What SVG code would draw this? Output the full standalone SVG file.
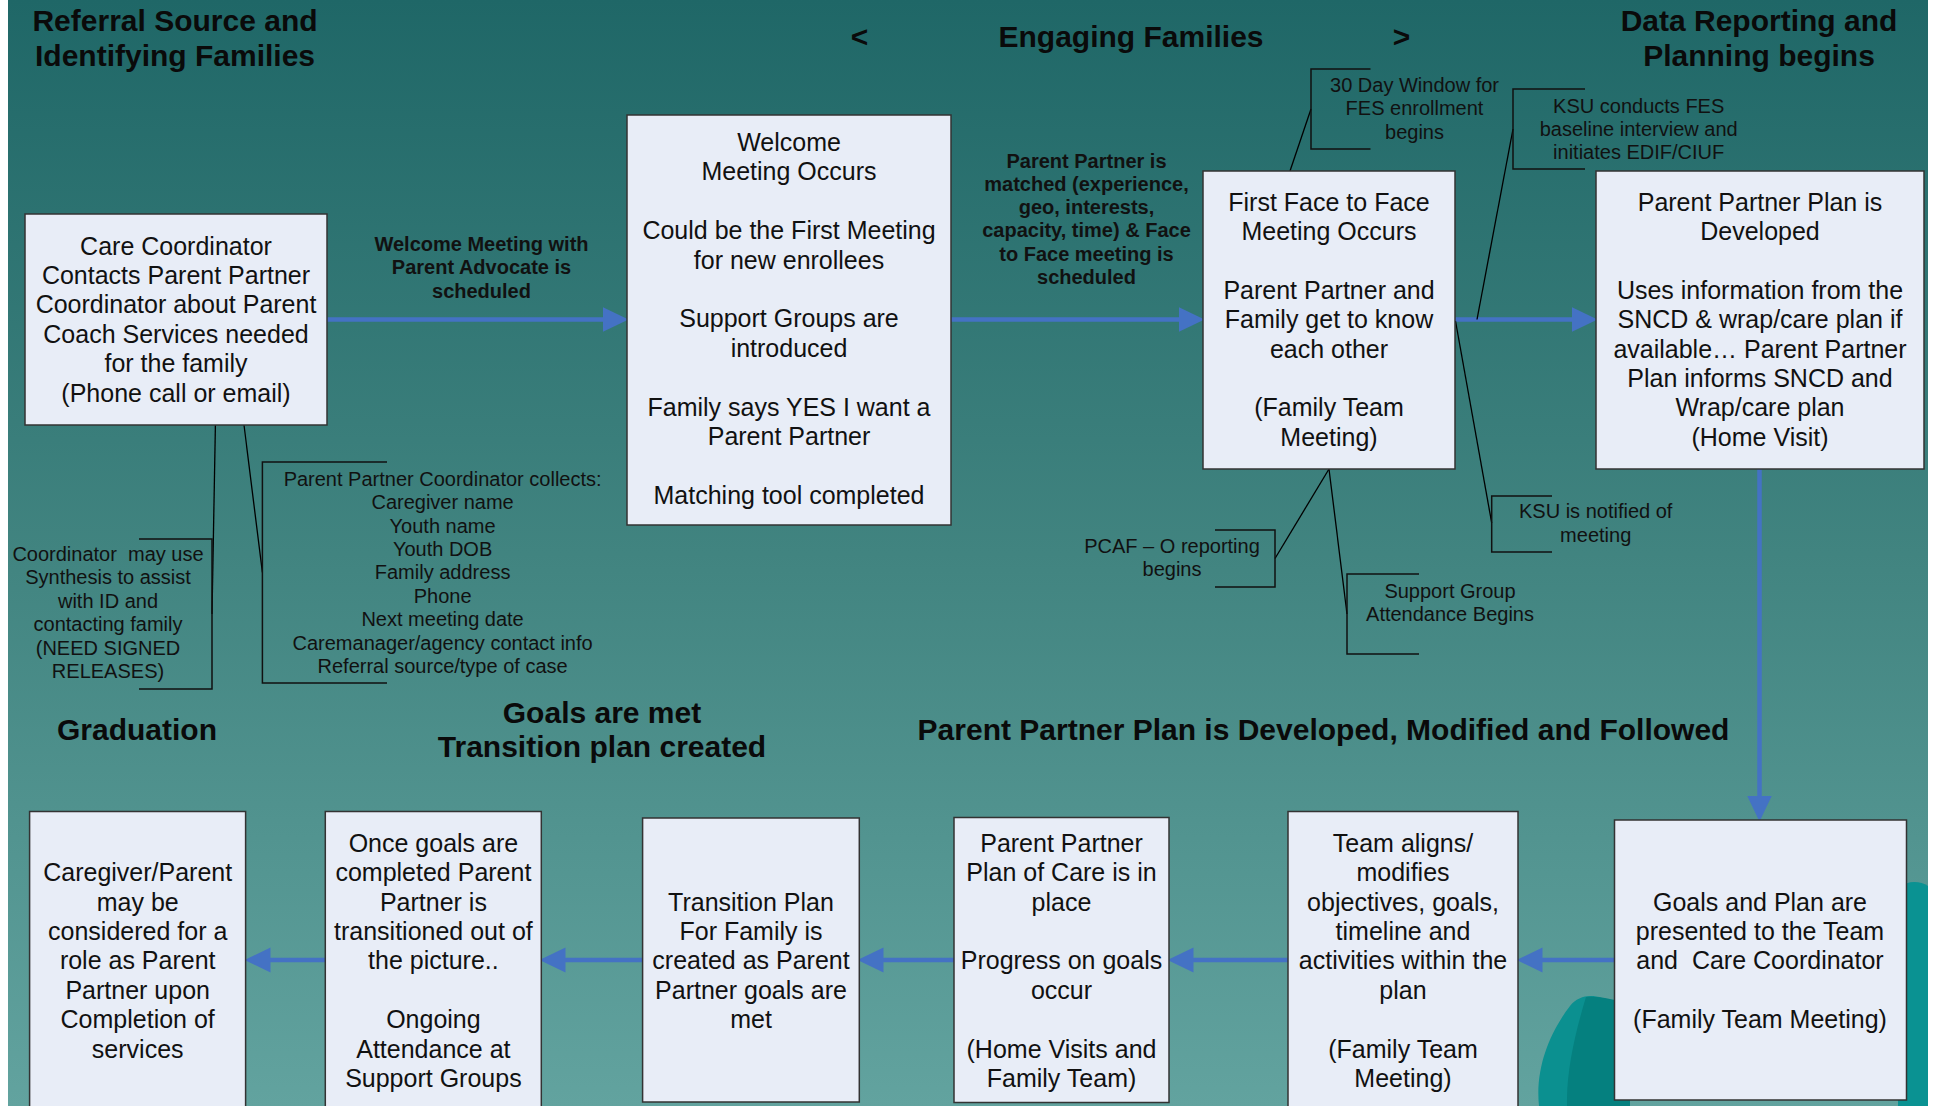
<svg xmlns="http://www.w3.org/2000/svg" width="1937" height="1106" viewBox="0 0 1937 1106">
<defs>
<linearGradient id="bg" x1="0" y1="0" x2="0" y2="1">
<stop offset="0" stop-color="#1f6767"/>
<stop offset="0.5" stop-color="#418480"/>
<stop offset="1" stop-color="#62a39f"/>
</linearGradient>
<marker id="ah" markerUnits="userSpaceOnUse" markerWidth="26" markerHeight="26" viewBox="0 0 24 23" refX="6" refY="11.5" orient="auto">
<path d="M0,0 L24,11.5 L0,23 Z" fill="#4472C4"/>
</marker>
<style>
.box{fill:#E8EDF7;stroke:#333;stroke-width:1.5}
.bt{font-family:"Liberation Sans",Arial,sans-serif;font-size:25px;text-anchor:middle;fill:#111}
.ct{font-family:"Liberation Sans",Arial,sans-serif;font-size:20px;text-anchor:middle;fill:#111}
.lb{font-family:"Liberation Sans",Arial,sans-serif;font-size:20px;font-weight:bold;text-anchor:middle;fill:#111}
.tt{font-family:"Liberation Sans",Arial,sans-serif;font-size:30px;font-weight:bold;text-anchor:middle;fill:#0a0a0a}
.arr{stroke:#4472C4;stroke-width:4.5;fill:none;marker-end:url(#ah)}
.ld{stroke:#000;stroke-width:1.3;fill:none}
.br{stroke:#111;stroke-width:1.5;fill:none}
</style>
</defs>
<rect x="0" y="0" width="1937" height="1106" fill="url(#bg)"/>
<rect x="0" y="0" width="8" height="1106" fill="#ffffff"/>
<rect x="1928" y="0" width="9" height="1106" fill="#ffffff"/>
<g id="decoration">
<path d="M1539,1106 C1535,1068 1550,1032 1570,1006 C1578,996 1590,994 1602,998 L1630,1004 L1630,1106 Z" fill="#0b9090"/>
<path d="M1586,997 C1576,1030 1566,1070 1567,1106 L1630,1106 L1630,1004 C1615,1000 1600,996 1586,997 Z" fill="#05807f"/>
<path d="M1898,888 C1908,880 1920,881 1928,886 L1928,1106 L1898,1106 Z" fill="#0a9292"/>
</g>
<g id="titles">
<text class="tt" x="175" y="31">Referral Source and</text>
<text class="tt" x="175" y="66">Identifying Families</text>
<text class="tt" x="859.5" y="47">&lt;</text>
<text class="tt" x="1131" y="47">Engaging Families</text>
<text class="tt" x="1401.5" y="47">&gt;</text>
<text class="tt" x="1759" y="31">Data Reporting and</text>
<text class="tt" x="1759" y="66">Planning begins</text>
<text class="tt" x="137" y="740">Graduation</text>
<text class="tt" x="602" y="723">Goals are met</text>
<text class="tt" x="602" y="757">Transition plan created</text>
<text class="tt" x="1323.5" y="740">Parent Partner Plan is Developed, Modified and Followed</text>
</g>
<g id="connectors">
<line class="arr" x1="327" y1="319.5" x2="609" y2="319.5"/>
<line class="arr" x1="951" y1="319.5" x2="1185" y2="319.5"/>
<line class="arr" x1="1455" y1="319.5" x2="1578" y2="319.5"/>
<line class="arr" x1="1759.5" y1="469" x2="1759.5" y2="802"/>
<line class="arr" x1="1615" y1="960" x2="1536" y2="960"/>
<line class="arr" x1="1289" y1="960" x2="1187" y2="960"/>
<line class="arr" x1="955" y1="960" x2="877" y2="960"/>
<line class="arr" x1="644" y1="960" x2="559" y2="960"/>
<line class="arr" x1="326" y1="960" x2="264" y2="960"/>
<line class="ld" x1="244" y1="425" x2="262.4" y2="572.5"/>
<line class="ld" x1="215.4" y1="425" x2="212" y2="614"/>
<line class="ld" x1="1290" y1="171" x2="1311" y2="109"/>
<line class="ld" x1="1477" y1="319.5" x2="1513" y2="129"/>
<line class="ld" x1="1455.5" y1="321" x2="1491.7" y2="523"/>
<line class="ld" x1="1329" y1="469" x2="1275" y2="558.5"/>
<line class="ld" x1="1329" y1="469" x2="1347" y2="614"/>
</g>
<g id="callout-collects">
<path class="br" d="M387,462 H262.4 V683 H387"/>
<text class="ct"><tspan x="442.6" y="485.7">Parent Partner Coordinator collects:</tspan><tspan x="442.6" y="509.1">Caregiver name</tspan><tspan x="442.6" y="532.5">Youth name</tspan><tspan x="442.6" y="555.9">Youth DOB</tspan><tspan x="442.6" y="579.3">Family address</tspan><tspan x="442.6" y="602.7">Phone</tspan><tspan x="442.6" y="626.1">Next meeting date</tspan><tspan x="442.6" y="649.5">Caremanager/agency contact info</tspan><tspan x="442.6" y="672.9">Referral source/type of case</tspan></text>
</g>
<g id="callout-synthesis">
<path class="br" d="M139,539 H212 V689 H139"/>
<text class="ct" xml:space="preserve"><tspan x="108" y="561">Coordinator  may use</tspan><tspan x="108" y="584.4">Synthesis to assist</tspan><tspan x="108" y="607.8">with ID and</tspan><tspan x="108" y="631.2">contacting family</tspan><tspan x="108" y="654.6">(NEED SIGNED</tspan><tspan x="108" y="678">RELEASES)</tspan></text>
</g>
<g id="callout-30day">
<path class="br" d="M1370.5,69 H1311 V149 H1370.5"/>
<text class="ct"><tspan x="1414.5" y="91.8">30 Day Window for</tspan><tspan x="1414.5" y="115.2">FES enrollment</tspan><tspan x="1414.5" y="138.6">begins</tspan></text>
</g>
<g id="callout-ksu-fes">
<path class="br" d="M1585,89 H1513 V169 H1585"/>
<text class="ct"><tspan x="1638.7" y="112.9">KSU conducts FES</tspan><tspan x="1638.7" y="135.8">baseline interview and</tspan><tspan x="1638.7" y="158.7">initiates EDIF/CIUF</tspan></text>
</g>
<g id="callout-ksu-notified">
<path class="br" d="M1552,496 H1491.7 V552 H1552"/>
<text class="ct"><tspan x="1595.7" y="518">KSU is notified of</tspan><tspan x="1595.7" y="542">meeting</tspan></text>
</g>
<g id="callout-pcaf">
<path class="br" d="M1215,530 H1275 V587 H1215"/>
<text class="ct"><tspan x="1172" y="552.5">PCAF – O reporting</tspan><tspan x="1172" y="576">begins</tspan></text>
</g>
<g id="callout-support">
<path class="br" d="M1419,574 H1347 V654 H1419"/>
<text class="ct"><tspan x="1450" y="597.8">Support Group</tspan><tspan x="1450" y="620.7">Attendance Begins</tspan></text>
</g>
<g id="label-welcome">
<text class="lb"><tspan x="481.5" y="251">Welcome Meeting with</tspan><tspan x="481.5" y="274.3">Parent Advocate is</tspan><tspan x="481.5" y="297.6">scheduled</tspan></text>
</g>
<g id="label-matched">
<text class="lb"><tspan x="1086.5" y="167.5">Parent Partner is</tspan><tspan x="1086.5" y="190.8">matched (experience,</tspan><tspan x="1086.5" y="214.1">geo, interests,</tspan><tspan x="1086.5" y="237.4">capacity, time) &amp; Face</tspan><tspan x="1086.5" y="260.7">to Face meeting is</tspan><tspan x="1086.5" y="284">scheduled</tspan></text>
</g>
<g id="node-care-coordinator">
<rect class="box" x="25" y="214" width="302" height="211"/>
<text class="bt"><tspan x="176" y="254.6">Care Coordinator</tspan><tspan x="176" y="284">Contacts Parent Partner</tspan><tspan x="176" y="313.4">Coordinator about Parent</tspan><tspan x="176" y="342.8">Coach Services needed</tspan><tspan x="176" y="372.2">for the family</tspan><tspan x="176" y="401.6">(Phone call or email)</tspan></text>
</g>
<g id="node-welcome">
<rect class="box" x="627" y="115" width="324" height="410"/>
<text class="bt"><tspan x="789" y="151">Welcome</tspan><tspan x="789" y="180.4">Meeting Occurs</tspan><tspan x="789" y="239.2">Could be the First Meeting</tspan><tspan x="789" y="268.6">for new enrollees</tspan><tspan x="789" y="327.4">Support Groups are</tspan><tspan x="789" y="356.8">introduced</tspan><tspan x="789" y="415.6">Family says YES I want a</tspan><tspan x="789" y="445">Parent Partner</tspan><tspan x="789" y="503.8">Matching tool completed</tspan></text>
</g>
<g id="node-first-face">
<rect class="box" x="1203" y="171" width="252" height="298"/>
<text class="bt"><tspan x="1329" y="210.6">First Face to Face</tspan><tspan x="1329" y="240">Meeting Occurs</tspan><tspan x="1329" y="298.8">Parent Partner and</tspan><tspan x="1329" y="328.2">Family get to know</tspan><tspan x="1329" y="357.6">each other</tspan><tspan x="1329" y="416.4">(Family Team</tspan><tspan x="1329" y="445.8">Meeting)</tspan></text>
</g>
<g id="node-plan-developed">
<rect class="box" x="1596" y="171" width="328" height="298"/>
<text class="bt"><tspan x="1760" y="210.6">Parent Partner Plan is</tspan><tspan x="1760" y="240">Developed</tspan><tspan x="1760" y="298.8">Uses information from the</tspan><tspan x="1760" y="328.2">SNCD &amp; wrap/care plan if</tspan><tspan x="1760" y="357.6">available… Parent Partner</tspan><tspan x="1760" y="387">Plan informs SNCD and</tspan><tspan x="1760" y="416.4">Wrap/care plan</tspan><tspan x="1760" y="445.8">(Home Visit)</tspan></text>
</g>
<g id="node-goals-presented">
<rect class="box" x="1614.5" y="820" width="292" height="280"/>
<text class="bt" xml:space="preserve"><tspan x="1760" y="910.5">Goals and Plan are</tspan><tspan x="1760" y="939.9">presented to the Team</tspan><tspan x="1760" y="969.3">and  Care Coordinator</tspan><tspan x="1760" y="1028.1">(Family Team Meeting)</tspan></text>
</g>
<g id="node-team-aligns">
<rect class="box" x="1288" y="811.5" width="230" height="310"/>
<text class="bt"><tspan x="1403" y="851.7">Team aligns/</tspan><tspan x="1403" y="881.1">modifies</tspan><tspan x="1403" y="910.5">objectives, goals,</tspan><tspan x="1403" y="939.9">timeline and</tspan><tspan x="1403" y="969.3">activities within the</tspan><tspan x="1403" y="998.7">plan</tspan><tspan x="1403" y="1057.5">(Family Team</tspan><tspan x="1403" y="1086.9">Meeting)</tspan></text>
</g>
<g id="node-plan-of-care">
<rect class="box" x="954" y="817.5" width="215" height="285"/>
<text class="bt"><tspan x="1061.5" y="851.7">Parent Partner</tspan><tspan x="1061.5" y="881.1">Plan of Care is in</tspan><tspan x="1061.5" y="910.5">place</tspan><tspan x="1061.5" y="969.3">Progress on goals</tspan><tspan x="1061.5" y="998.7">occur</tspan><tspan x="1061.5" y="1057.5">(Home Visits and</tspan><tspan x="1061.5" y="1086.9">Family Team)</tspan></text>
</g>
<g id="node-transition">
<rect class="box" x="642.6" y="818" width="216.7" height="284"/>
<text class="bt"><tspan x="751" y="910.5">Transition Plan</tspan><tspan x="751" y="939.9">For Family is</tspan><tspan x="751" y="969.3">created as Parent</tspan><tspan x="751" y="998.7">Partner goals are</tspan><tspan x="751" y="1028.1">met</tspan></text>
</g>
<g id="node-once-goals">
<rect class="box" x="325.3" y="811.5" width="216" height="310"/>
<text class="bt"><tspan x="433.4" y="851.7">Once goals are</tspan><tspan x="433.4" y="881.1">completed Parent</tspan><tspan x="433.4" y="910.5">Partner is</tspan><tspan x="433.4" y="939.9">transitioned out of</tspan><tspan x="433.4" y="969.3">the picture..</tspan><tspan x="433.4" y="1028.1">Ongoing</tspan><tspan x="433.4" y="1057.5">Attendance at</tspan><tspan x="433.4" y="1086.9">Support Groups</tspan></text>
</g>
<g id="node-caregiver">
<rect class="box" x="29.6" y="811.5" width="216" height="310"/>
<text class="bt"><tspan x="137.7" y="881.1">Caregiver/Parent</tspan><tspan x="137.7" y="910.5">may be</tspan><tspan x="137.7" y="939.9">considered for a</tspan><tspan x="137.7" y="969.3">role as Parent</tspan><tspan x="137.7" y="998.7">Partner upon</tspan><tspan x="137.7" y="1028.1">Completion of</tspan><tspan x="137.7" y="1057.5">services</tspan></text>
</g>
</svg>
